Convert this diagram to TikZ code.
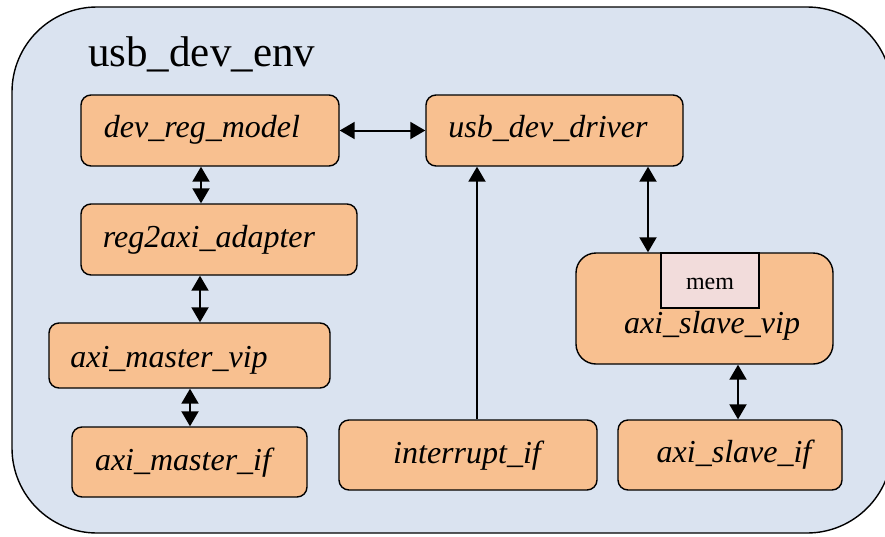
\documentclass[tikz,border=0pt]{standalone}
\usepackage{fontspec}
\setmainfont{Liberation Serif}[ItalicFont={Liberation Serif Italic}]
\usetikzlibrary{arrows.meta}
\definecolor{envblue}{HTML}{DAE3F0}
\definecolor{boxfill}{HTML}{F8C090}
\definecolor{memfill}{HTML}{F2DCDB}
\begin{document}
\begin{tikzpicture}[x=1pt,y=-1pt,
  blk/.style={draw, line width=1.4pt, fill=boxfill, rounded corners=10pt, inner sep=0pt},
  lbl/.style={font=\fontsize{32}{32}\selectfont\itshape, anchor=base, inner sep=0pt},
  conn/.style={line width=2pt, {Triangle[length=15pt,width=17pt]}-{Triangle[length=15pt,width=17pt]}},
  oneway/.style={line width=2pt, -{Triangle[length=15pt,width=17pt]}},
]
\useasboundingbox (0,0) rectangle (885,536);
\begin{scope}
\clip (0,0) rectangle (885,536);
\node[draw, line width=1.4pt, fill=envblue, rounded corners=85pt, inner sep=0pt,
      minimum width=880pt, minimum height=526pt] (env) at (452,270) {};
\end{scope}
\node[font=\fontsize{43}{43}\selectfont, anchor=base west, inner sep=0pt] (envlbl) at (88,66) {usb\_dev\_env};

% boxes
\node[blk, minimum width=258pt, minimum height=71pt] (drm) at (210,130.5) {};
\node[blk, minimum width=257pt, minimum height=71pt] (udd) at (554.5,130.5) {};
\node[blk, minimum width=276pt, minimum height=71pt] (rad) at (219,239.5) {};
\node[blk, minimum width=281pt, minimum height=65pt] (amv) at (189.5,355.5) {};
\node[blk, minimum width=235pt, minimum height=70pt] (amif) at (189.5,462) {};
\node[blk, minimum width=258pt, minimum height=70pt] (iif) at (468,455) {};
\node[blk, minimum width=224pt, minimum height=70pt] (asif) at (730,455) {};
\node[blk, rounded corners=20pt, minimum width=257pt, minimum height=111pt] (asv) at (704.5,308.5) {};
\node[draw, line width=1.4pt, fill=memfill, inner sep=0pt, minimum width=98pt, minimum height=55pt] (mem) at (710,280.5) {};

% labels
\node[lbl] (drmt) at (202,137) {dev\_reg\_model};
\node[lbl] (uddt) at (548,137) {usb\_dev\_driver};
\node[lbl] (radt) at (209,247) {reg2axi\_adapter};
\node[lbl] (amvt) at (169,367) {axi\_master\_vip};
\node[lbl] (amift) at (183,470) {axi\_master\_if};
\node[lbl] (iift) at (467,463) {interrupt\_if};
\node[lbl] (asift) at (734,462) {axi\_slave\_if};
\node[lbl] (asvt) at (712,333) {axi\_slave\_vip};
\node[font=\fontsize{24}{24}\selectfont, anchor=base, inner sep=0pt] (memt) at (710,289) {mem};

% connector columns
\coordinate (c1) at (201,0);
\coordinate (c2) at (200,0);
\coordinate (c3) at (190,0);
\coordinate (c4) at (477,0);
\coordinate (c5) at (648,0);
\coordinate (c6) at (738,0);

\draw[conn] (drm.east) -- (udd.west);
\draw[conn] (c1 |- drm.south) -- (c1 |- rad.north);
\draw[conn] (c2 |- rad.south) -- (c2 |- amv.north);
\draw[conn] (c3 |- amv.south) -- (c3 |- amif.north);
\draw[oneway] (c4 |- iif.north) -- (c4 |- udd.south);
\draw[conn] (c5 |- udd.south) -- (c5 |- asv.north);
\draw[conn] (c6 |- asv.south) -- (c6 |- asif.north);
\end{tikzpicture}
\end{document}
